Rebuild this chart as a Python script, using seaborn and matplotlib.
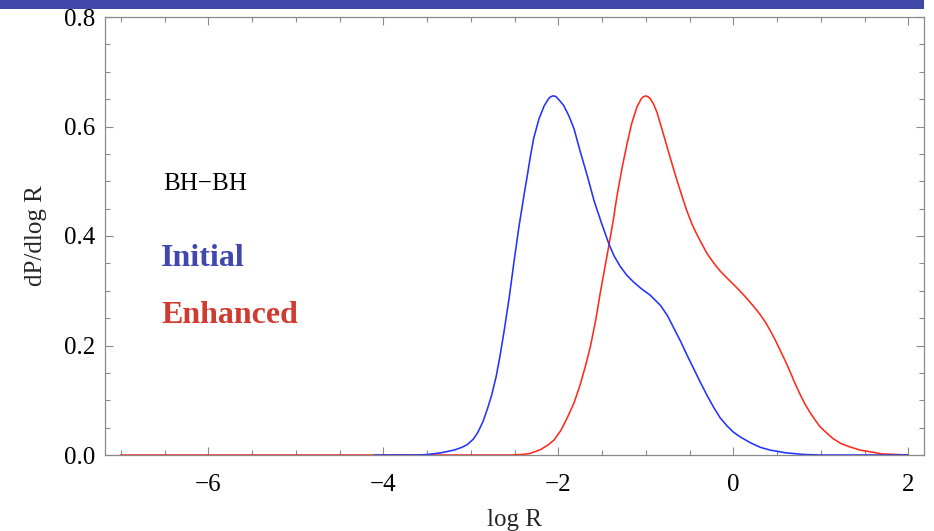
import matplotlib
matplotlib.use("Agg")
import matplotlib.pyplot as plt
import seaborn as sns
import pandas as pd
from matplotlib.ticker import MultipleLocator, FormatStrFormatter
from matplotlib.patches import Rectangle

# Distributions of log R for BH-BH systems
initial_logR = [-4.1, -3.6, -3.49, -3.34, -3.19, -3.10, -3.04, -2.97, -2.92, -2.86,
                -2.81, -2.76, -2.71, -2.67, -2.62, -2.56, -2.51, -2.45, -2.39, -2.35,
                -2.32, -2.28, -2.22, -2.16, -2.11, -2.09, -2.06, -2.03, -2.01, -1.94,
                -1.88, -1.82, -1.75, -1.67, -1.59, -1.50, -1.42, -1.36, -1.29, -1.22,
                -1.14, -1.06, -0.95, -0.83, -0.75, -0.68, -0.60, -0.53, -0.45, -0.38,
                -0.30, -0.22, -0.15, -0.07, 0.0, 0.08, 0.20, 0.31, 0.42, 0.60,
                0.80, 1.0, 2.0]
initial_dens = [0.0, 0.0, 0.001, 0.004, 0.009, 0.014, 0.019, 0.029, 0.041, 0.061,
                0.084, 0.11, 0.143, 0.177, 0.225, 0.288, 0.348, 0.416, 0.476, 0.514,
                0.544, 0.579, 0.614, 0.638, 0.651, 0.654, 0.656, 0.655, 0.652, 0.639,
                0.62, 0.596, 0.555, 0.511, 0.464, 0.421, 0.385, 0.363, 0.344, 0.329,
                0.316, 0.305, 0.292, 0.273, 0.254, 0.232, 0.207, 0.183, 0.157, 0.134,
                0.109, 0.086, 0.068, 0.053, 0.042, 0.033, 0.022, 0.014, 0.009, 0.004,
                0.001, 0.0, 0.0]

enhanced_logR = [-7.0, -3.0, -2.54, -2.40, -2.32, -2.20, -2.12, -2.05, -1.97, -1.90,
                 -1.82, -1.75, -1.69, -1.63, -1.57, -1.52, -1.47, -1.42, -1.37, -1.33,
                 -1.27, -1.21, -1.16, -1.10, -1.05, -1.03, -1.0, -0.97, -0.95, -0.91,
                 -0.87, -0.82, -0.76, -0.70, -0.64, -0.58, -0.53, -0.47, -0.41, -0.35,
                 -0.30, -0.22, -0.15, -0.07, 0.0, 0.08, 0.16, 0.23, 0.31, 0.37,
                 0.42, 0.48, 0.54, 0.60, 0.65, 0.70, 0.76, 0.82, 0.88, 0.94,
                 0.99, 1.07, 1.14, 1.23, 1.33, 1.45, 1.56, 1.70, 1.85, 2.0]
enhanced_dens = [0.0, 0.0, 0.0, 0.001, 0.003, 0.010, 0.018, 0.027, 0.045, 0.067,
                 0.095, 0.128, 0.162, 0.2, 0.248, 0.296, 0.34, 0.384, 0.43, 0.472,
                 0.525, 0.571, 0.606, 0.636, 0.651, 0.654, 0.656, 0.654, 0.651, 0.641,
                 0.625, 0.598, 0.565, 0.532, 0.5, 0.47, 0.446, 0.421, 0.401, 0.383,
                 0.368, 0.35, 0.336, 0.323, 0.312, 0.299, 0.285, 0.272, 0.256, 0.242,
                 0.228, 0.21, 0.19, 0.17, 0.152, 0.133, 0.112, 0.093, 0.077, 0.063,
                 0.052, 0.04, 0.030, 0.021, 0.015, 0.009, 0.006, 0.002, 0.001, 0.0]

x_ticks = [-6, -4, -2, 0, 2]
y_ticks = [0.0, 0.2, 0.4, 0.6, 0.8]

sns.set_theme(style="white")
plt.rcParams["font.family"] = ["Liberation Serif", "DejaVu Serif"]

fig = plt.figure(figsize=(9.34, 5.31), dpi=100)
ax = fig.add_axes([105 / 934, 1 - 455 / 531, (924 - 105) / 934, (455 - 17) / 531])

# header band across the top
fig.patches.append(Rectangle((0, 1 - 9 / 531), 924 / 934, 9 / 531,
                             transform=fig.transFigure, facecolor="#3f47a8",
                             edgecolor="none", zorder=-1))

enh = pd.DataFrame({"logR": enhanced_logR, "dens": enhanced_dens})
ini = pd.DataFrame({"logR": initial_logR, "dens": initial_dens})
sns.lineplot(data=enh, x="logR", y="dens", ax=ax, color="#ff2a1a", lw=1.15,
             estimator=None, sort=False)
sns.lineplot(data=ini, x="logR", y="dens", ax=ax, color="#2233ff", lw=1.15,
             estimator=None, sort=False)

ax.set_xlim(-7.18, 2.18)
ax.set_ylim(0, 0.8)
ax.set_xticks(x_ticks)
ax.set_yticks(y_ticks)
ax.xaxis.set_minor_locator(MultipleLocator(0.5))
ax.yaxis.set_minor_locator(MultipleLocator(0.05))
ax.yaxis.set_major_formatter(FormatStrFormatter("%.1f"))
ax.set_xticklabels(["\u22126", "\u22124", "\u22122", "0", "2"])

frame_col = "#8a8a8a"
for s in ax.spines.values():
    s.set_color(frame_col)
    s.set_linewidth(0.9)
ax.tick_params(which="both", direction="in", top=True, right=True,
               bottom=True, left=True, color=frame_col, width=0.8,
               labelsize=18, labelcolor="black")
ax.tick_params(which="major", length=6)
ax.tick_params(which="minor", length=3.6)
ax.tick_params(axis="x", which="major", pad=14)
ax.tick_params(axis="y", which="major", pad=7)

ax.set_xlabel("log R", fontsize=18, labelpad=9)
ax.set_ylabel("dP/dlog R", fontsize=18, labelpad=12)

ax.text(-6.51, 0.484, "BH\u2212BH", fontsize=18, color="black",
        ha="left", va="baseline")
ax.text(-6.54, 0.345, "Initial", fontsize=23, fontweight="bold",
        color="#4048b0", ha="left", va="baseline")
ax.text(-6.54, 0.241, "Enhanced", fontsize=23, fontweight="bold",
        color="#d03a30", ha="left", va="baseline")

fig.savefig("out.png", dpi=100)
